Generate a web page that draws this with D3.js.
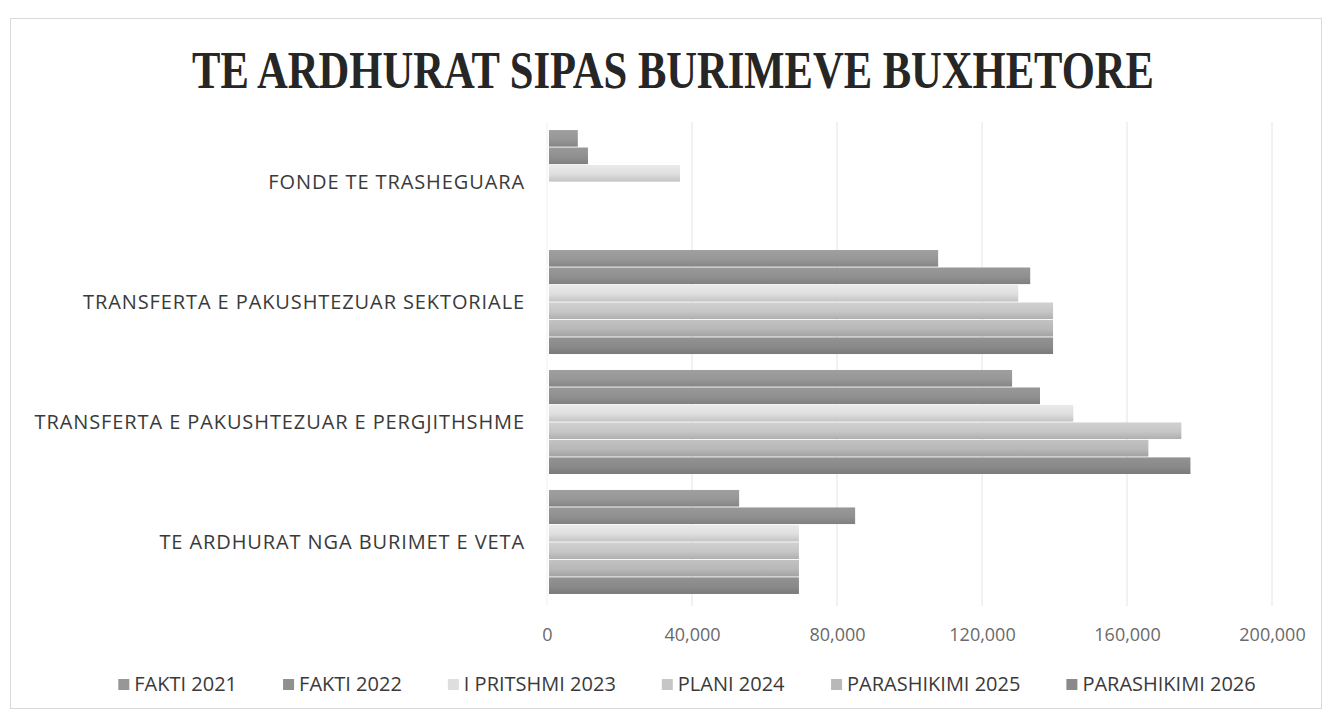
<!DOCTYPE html>
<html>
<head>
<meta charset="utf-8">
<script src="https://cdn.jsdelivr.net/npm/d3@7"></script>
<style>
  html, body { margin: 0; padding: 0; background: #ffffff; }
  svg { display: block; }
</style>
</head>
<body>
<svg id="chart" width="1331" height="720"></svg>
<script>
// ---- data ----
const categories = [
  "FONDE TE TRASHEGUARA",
  "TRANSFERTA E PAKUSHTEZUAR SEKTORIALE",
  "TRANSFERTA E PAKUSHTEZUAR E PERGJITHSHME",
  "TE ARDHURAT NGA BURIMET E VETA"
];
const seriesNames = ["FAKTI 2021", "FAKTI 2022", "I PRITSHMI 2023", "PLANI 2024", "PARASHIKIMI 2025", "PARASHIKIMI 2026"];
const fakti2021      = [8500, 107900, 128300, 53000];
const fakti2022      = [11300, 133300, 136000, 85000];
const pritshmi2023   = [36700, 130000, 145200, 69500];
const plani2024      = [0, 139600, 175000, 69500];
const parashikimi2025 = [0, 139600, 165900, 69500];
const parashikimi2026 = [0, 139600, 177500, 69500];
const seriesValues = [fakti2021, fakti2022, pritshmi2023, plani2024, parashikimi2025, parashikimi2026];
const tickValues = [0, 40000, 80000, 120000, 160000, 200000];
const titleText = "TE ARDHURAT SIPAS BURIMEVE BUXHETORE";

// ---- styles ----
const colors = ["#979797", "#909090", "#dedede", "#c6c6c6", "#b8b8b8", "#8a8a8a"];

const svg = d3.select("#chart");
const W = 1331, H = 720;

// chart border
svg.append("rect").attr("x", 10.5).attr("y", 18.5).attr("width", 1311).attr("height", 690)
  .attr("fill", "#fff").attr("stroke", "#d9d9d9").attr("stroke-width", 1);

// title
svg.append("text")
  .attr("transform", "translate(673,88) scale(0.887,1.1)")
  .attr("text-anchor", "middle")
  .attr("font-family", "'Liberation Serif', 'DejaVu Serif', serif")
  .attr("font-weight", "bold")
  .attr("font-size", 48)
  .attr("fill", "#262626")
  .text(titleText);

const plot = { left: 547, right: 1272, top: 122, bottom: 602 };

const x = d3.scaleLinear().domain([0, 200000]).range([plot.left, plot.right]);
const y = d3.scaleBand().domain(categories).range([plot.top, plot.bottom])
  .paddingInner(0.133).paddingOuter(0.067);
const ySub = d3.scaleBand().domain(seriesNames).range([0, y.bandwidth()]).paddingInner(0.05);

// gradients
const defs = svg.append("defs");
colors.forEach((c, i) => {
  const g = defs.append("linearGradient").attr("id", "grad" + i)
    .attr("x1", 0).attr("y1", 0).attr("x2", 0).attr("y2", 1);
  const base = d3.color(c);
  g.append("stop").attr("offset", "0%").attr("stop-color", base.brighter(0.15));
  g.append("stop").attr("offset", "55%").attr("stop-color", base);
  g.append("stop").attr("offset", "100%").attr("stop-color", base.darker(0.35));
});

// gridlines
svg.append("g").selectAll("line").data(tickValues).join("line")
  .attr("x1", d => x(d)).attr("x2", d => x(d))
  .attr("y1", plot.top).attr("y2", plot.bottom + 4)
  .attr("stroke", d => d === 0 ? "#f0f0f0" : "#e4e4e4").attr("stroke-width", 1);

// bars
const groups = svg.append("g").selectAll("g").data(categories).join("g")
  .attr("transform", c => `translate(0,${y(c)})`);
groups.each(function(c, ci) {
  d3.select(this).selectAll("rect").data(seriesNames).join("rect")
    .attr("x", x(0) + 2)
    .attr("y", s => ySub(s))
    .attr("height", ySub.bandwidth())
    .attr("width", (s, si) => Math.max(0, x(seriesValues[si][ci]) - x(0) - 2))
    .attr("fill", (s, si) => `url(#grad${si})`);
});

// category labels
svg.append("g").selectAll("text").data(categories).join("text")
  .attr("x", 525)
  .attr("y", c => y(c) + y.bandwidth() / 2 + 7)
  .attr("text-anchor", "end")
  .attr("font-family", "'Open Sans', 'Noto Sans', sans-serif")
  .attr("font-size", 20)
  .attr("letter-spacing", 0.9)
  .attr("fill", "#3a3a3a")
  .text(c => c);

// x axis
const xAxis = d3.axisBottom(x).tickValues(tickValues).tickSize(0).tickPadding(0)
  .tickFormat(d3.format(","));
const ax = svg.append("g").attr("transform", `translate(0,${plot.bottom + 26})`).call(xAxis);
ax.select(".domain").remove();
ax.selectAll("text")
  .attr("font-family", "'Open Sans', 'Noto Sans', sans-serif")
  .attr("font-size", 18)
  .attr("fill", "#6a6a6a");

// legend
const legend = svg.append("g").attr("transform", "translate(0,691)");
const items = legend.selectAll("g").data(seriesNames).join("g");
items.append("rect").attr("width", 11).attr("height", 11).attr("y", -12)
  .attr("fill", (s, i) => colors[i]);
items.append("text").attr("x", 16).attr("y", 0)
  .attr("font-family", "'Open Sans', 'Noto Sans', sans-serif")
  .attr("font-size", 20)
  .attr("fill", "#3a3a3a")
  .text(s => s);
const widths = [];
items.each(function() { widths.push(this.getBBox().width); });
const gap = 46;
const total = d3.sum(widths) + gap * (widths.length - 1);
let cx = 687 - total / 2;
items.attr("transform", (s, i) => { const t = `translate(${cx},0)`; cx += widths[i] + gap; return t; });
</script>
</body>
</html>
